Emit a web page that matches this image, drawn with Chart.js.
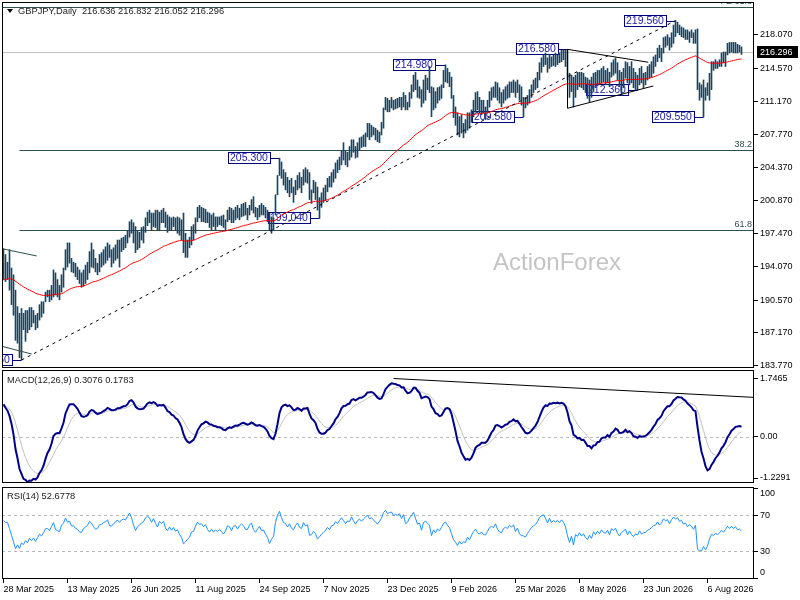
<!DOCTYPE html>
<html>
<head>
<meta charset="utf-8">
<title>GBPJPY Daily</title>
<script src="https://cdn.jsdelivr.net/npm/chart.js@4.4.1/dist/chart.umd.min.js"></script>
<style>
  html, body { margin: 0; padding: 0; background: #fff; }
  #wrap { position: relative; width: 800px; height: 600px; overflow: hidden; }
  canvas { position: absolute; left: 0; }
  #main { top: 0; }
  #macd { top: 369px; }
  #rsi { top: 485px; }
</style>
</head>
<body>
<div id="wrap">
  <canvas id="main" width="800" height="370"></canvas>
  <canvas id="macd" width="800" height="116"></canvas>
  <canvas id="rsi" width="800" height="115"></canvas>
</div>
<script>
// ---- data (one value per daily bar) ----
const symbol = 'GBPJPY,Daily';
const lastOpen = 216.636;
const tickLabels = ['28 Mar 2025', '13 May 2025', '26 Jun 2025', '11 Aug 2025', '24 Sep 2025', '7 Nov 2025',
  '23 Dec 2025', '9 Feb 2026', '25 Mar 2026', '8 May 2026', '23 Jun 2026', '6 Aug 2026'];
const barsPerLabel = 32;

const highs = [
  195.9,195.3,194.5,195.8,193.9,193.2,191.6,189.9,189.2,189.7,
  189.2,189.5,189.5,189.8,189.8,189.5,189.0,189.2,190.1,190.4,
  190.4,191.4,191.6,191.6,192.1,193.7,193.4,192.7,192.1,193.2,
  193.9,195.8,196.5,196.5,194.9,194.5,194.4,194.0,193.7,193.4,
  193.7,194.2,194.5,195.6,196.5,195.8,194.9,194.4,195.3,195.5,
  195.8,196.1,196.5,196.3,195.8,196.0,196.3,196.8,196.8,197.0,
  197.1,197.3,197.8,198.7,198.9,198.6,198.2,197.8,197.6,198.1,
  198.2,199.1,199.7,199.9,199.6,199.6,199.9,199.9,199.7,199.9,
  200.1,199.7,199.4,199.2,199.1,199.2,199.1,199.2,199.1,198.9,
  199.6,197.5,196.8,197.1,198.2,198.4,199.1,200.2,200.4,200.2,
  200.1,200.0,199.7,199.6,199.4,199.6,199.2,199.2,199.2,199.3,
  199.4,198.9,199.9,200.2,200.1,199.9,200.2,200.4,200.1,200.5,
  200.6,200.7,200.1,200.4,201.0,201.3,200.2,200.1,200.4,200.6,
  200.4,200.2,199.9,199.6,199.2,199.1,201.5,203.5,205.3,204.9,
  204.1,203.8,203.3,203.0,203.2,202.3,203.0,203.5,203.8,203.3,
  204.1,204.3,204.1,203.8,202.0,203.0,202.8,202.3,201.2,201.7,
  202.2,202.5,203.2,203.4,203.8,204.1,204.8,205.1,205.4,206.1,
  206.9,206.1,205.9,206.5,207.2,207.2,206.5,206.9,207.4,207.5,
  207.7,207.9,208.9,208.9,208.7,208.5,208.4,208.2,208.0,209.0,
  210.5,211.6,211.5,211.3,211.6,211.3,211.4,211.5,211.6,211.6,
  212.1,211.8,211.1,212.1,212.9,213.9,214.2,213.4,212.7,212.4,
  213.4,213.9,213.6,214.8,212.7,212.6,212.2,212.6,212.7,212.9,
  214.4,214.98,214.6,214.2,213.7,211.8,210.6,210.0,209.6,209.8,
  208.9,209.3,210.0,210.0,210.3,211.3,212.1,212.2,211.6,211.3,
  211.3,210.6,211.3,212.2,212.6,212.7,213.2,213.1,212.6,212.1,
  212.4,212.7,212.9,213.2,213.2,213.4,213.2,213.4,212.9,212.7,
  211.6,211.6,211.8,212.4,212.9,213.4,213.6,214.2,215.2,215.7,
  216.0,216.2,215.7,216.0,215.8,216.0,216.2,216.0,216.2,216.5,
  216.5,216.5,216.58,214.1,213.9,213.7,213.9,214.2,214.2,214.2,
  214.1,213.7,213.6,213.4,213.7,214.1,214.2,214.4,214.4,214.6,
  214.8,214.4,214.6,214.2,215.2,215.5,215.7,215.2,214.4,214.2,
  214.6,215.3,215.2,214.8,215.3,214.6,214.2,213.9,214.6,214.8,
  214.1,214.2,214.8,215.0,215.3,215.8,216.0,216.7,217.0,216.7,
  217.8,217.9,218.1,217.8,218.3,219.1,219.56,219.4,219.1,218.9,
  218.8,218.6,218.6,218.4,218.6,218.3,218.6,218.7,213.1,212.9,
  213.4,212.6,213.1,214.1,215.3,215.3,215.5,215.3,215.5,216.2,
  216.3,216.3,217.2,217.3,217.3,217.3,217.3,217.1,217.0,216.832
];
const lows = [
  192.7,192.5,192.7,191.6,190.1,189.0,186.4,186.1,184.6,184.36,
  187.5,186.3,187.2,187.5,187.8,188.2,187.5,187.7,188.5,188.8,
  189.2,190.4,190.9,190.4,190.6,190.9,191.1,190.9,190.6,191.4,
  191.9,193.7,194.0,194.4,193.5,193.4,193.0,192.7,192.3,191.9,
  192.0,192.3,192.7,193.4,194.0,193.9,193.5,193.2,193.5,194.0,
  194.2,194.4,194.7,195.0,194.0,194.4,194.7,194.9,194.0,195.6,
  195.8,196.0,196.5,197.1,197.5,196.5,195.5,195.8,196.0,196.8,
  196.5,197.6,198.3,198.6,197.8,198.2,198.1,197.8,197.8,198.6,
  198.6,198.1,197.6,197.8,197.8,198.2,197.8,197.5,197.3,196.8,
  195.5,195.0,195.0,196.0,196.3,196.8,197.5,198.7,199.1,198.7,
  198.7,198.6,198.6,198.1,197.8,198.2,197.8,198.2,198.4,198.3,
  198.1,197.8,198.7,198.9,198.6,198.6,198.9,199.1,198.9,199.2,
  199.3,199.4,198.9,199.4,199.9,199.6,199.2,198.9,199.2,199.4,
  199.4,199.1,198.7,197.8,197.5,197.8,199.4,201.5,203.5,203.2,
  202.5,202.0,201.7,201.3,201.7,200.7,201.5,202.0,202.2,201.7,
  202.5,202.8,202.7,201.0,200.6,201.7,201.0,199.9,199.04,200.2,
  200.7,200.9,201.8,202.3,202.3,202.8,203.2,203.8,204.1,204.6,
  205.1,204.6,204.4,205.1,205.4,205.9,205.3,205.4,206.1,206.4,
  206.5,206.5,207.5,207.2,207.5,207.7,207.2,207.0,206.9,207.7,
  208.4,210.3,210.1,210.1,210.5,210.3,210.4,210.5,210.6,210.3,
  210.6,210.3,210.3,210.6,211.5,212.2,212.4,211.6,211.5,210.6,
  211.0,211.3,212.4,212.1,209.6,210.3,210.5,211.0,211.3,211.5,
  212.6,213.2,213.1,212.7,211.5,209.5,208.7,207.7,207.5,207.9,
  207.4,207.9,208.2,208.4,209.0,209.6,210.1,210.3,210.0,209.8,
  210.0,209.3,210.0,210.6,211.3,211.6,211.6,211.3,211.0,210.6,
  211.0,211.3,211.5,211.6,212.1,212.1,211.6,212.1,211.3,210.8,
  209.58,210.5,210.8,211.0,211.6,212.1,212.4,212.6,213.4,214.2,
  214.8,215.0,214.2,214.6,214.8,214.9,214.8,215.0,215.2,215.3,
  215.5,214.8,213.4,211.6,212.2,210.6,211.6,212.4,212.7,212.6,
  212.4,212.1,211.5,211.1,211.6,212.2,212.6,212.8,212.9,213.1,
  213.2,212.9,213.1,212.7,213.7,213.9,214.1,213.4,212.7,211.8,
  212.6,213.6,213.1,212.9,213.1,212.6,212.4,212.36,212.9,213.1,
  212.6,212.9,213.4,213.6,213.7,214.1,214.8,215.3,215.7,215.3,
  216.2,216.8,217.0,216.5,216.8,217.2,217.9,218.3,218.1,217.9,
  217.8,217.6,217.6,217.3,217.8,217.2,217.2,212.4,211.3,211.6,
  209.55,211.3,211.8,211.3,212.4,214.4,214.6,214.6,214.8,214.8,
  215.2,214.8,216.0,216.2,216.3,216.2,216.2,216.2,216.3,216.052
];
const closes = [
  194.6,194.3,194.3,193.3,192.0,190.4,188.0,188.8,187.4,188.6,
  188.0,188.9,188.2,189.2,188.5,189.1,188.1,188.9,189.8,189.3,
  190.1,191.2,191.3,190.8,191.9,193.1,191.6,191.3,191.0,192.9,
  193.6,195.5,194.6,195.0,193.9,194.0,193.4,193.2,192.6,192.5,
  193.4,193.8,194.2,195.3,195.0,194.4,193.9,194.1,194.9,195.0,
  195.5,195.6,196.1,195.3,195.2,195.7,196.0,196.5,196.2,196.7,
  196.9,196.8,197.6,198.4,197.9,197.0,196.2,196.9,197.2,197.7,
  197.9,198.8,199.2,199.0,198.5,199.3,198.7,198.2,199.4,199.1,
  199.6,198.6,198.2,198.9,198.4,198.9,198.3,198.6,197.8,197.3,
  195.9,196.2,196.6,196.9,197.8,197.9,198.9,199.8,199.5,199.6,
  199.2,199.6,198.9,198.5,199.0,198.6,198.9,198.7,199.0,198.7,
  198.4,198.8,199.6,199.5,199.0,199.7,199.8,199.4,199.9,200.2,
  200.0,199.6,199.6,200.2,200.5,199.8,199.5,199.9,200.3,199.8,
  199.9,199.4,199.0,198.1,198.6,198.9,201.2,203.2,204.6,203.6,
  202.8,202.6,202.0,202.8,202.0,201.7,202.7,203.4,202.6,202.4,
  203.9,203.3,203.6,201.4,201.5,202.3,201.8,200.5,200.9,201.5,
  201.9,202.3,203.0,202.6,203.5,203.6,204.5,204.2,205.0,205.8,
  205.4,204.9,205.6,205.5,206.8,206.2,205.7,206.6,207.0,206.7,
  207.3,207.8,208.4,207.9,208.2,207.9,207.6,207.4,207.9,208.6,
  210.2,211.0,210.6,210.9,211.1,210.7,211.0,210.9,211.3,210.8,
  211.7,210.6,210.9,211.9,212.6,213.6,212.8,211.9,212.2,211.0,
  213.0,213.3,213.0,212.6,210.5,211.9,211.2,212.2,211.8,212.7,
  213.9,214.3,213.6,213.2,211.8,210.2,209.4,208.3,209.2,208.3,
  208.8,208.5,209.7,208.9,210.0,210.9,211.6,210.7,210.4,210.9,
  210.3,210.2,211.0,211.9,212.2,212.0,212.9,211.9,211.4,211.2,
  212.1,212.4,212.2,212.9,212.6,213.1,212.0,212.7,211.6,211.3,
  211.2,211.0,211.6,212.1,212.7,213.0,213.3,213.9,214.9,215.3,
  215.6,215.2,214.6,215.7,215.1,215.6,215.4,215.8,215.5,216.1,
  215.8,215.2,213.8,212.4,213.5,211.2,213.5,213.0,213.9,213.0,
  213.6,212.5,212.0,213.0,212.1,213.8,213.0,214.0,213.3,214.4,
  213.7,213.5,214.3,213.1,214.9,214.4,215.1,213.8,213.0,214.0,
  214.3,214.9,213.4,214.5,213.5,212.9,213.6,213.3,214.4,213.6,
  213.9,214.0,214.5,214.7,215.1,215.6,215.7,216.5,216.0,216.5,
  217.6,217.3,217.6,217.0,218.0,218.8,218.5,218.9,218.4,218.6,
  218.1,218.3,217.8,218.2,218.0,217.6,218.3,212.8,212.3,212.1,
  212.9,211.7,212.4,213.9,215.0,214.7,215.2,214.9,215.3,215.9,
  215.5,216.1,216.9,216.5,217.0,216.6,217.0,216.5,216.6,216.296
];

// marked swing points [bar index, price]
const swingMarks = [[9, 184.36], [138, 205.30], [158, 199.04], [221, 214.98], [260, 209.58],
  [282, 216.58], [317, 212.36], [336, 219.56], [350, 209.55]];
// drawn objects, [bar index, price] end points
const channelLine = [[9, 184.36], [336, 219.56]];
const triangleLines = [
  [[282, 216.58], [282, 210.47]],
  [[282, 216.58], [322.4, 215.24]],
  [[282, 210.47], [324.9, 212.78]]
];
const wedgeLines = [
  [[-1, 195.91], [16.6, 195.15]],
  [[-1, 185.79], [14.1, 184.98]]
];
const fibLow = 184.36, fibHigh = 219.56, fibStart = 8;
const fibLevels = [38.2, 61.8];
const feLevel = 220.98, feLabel = 'FE 61.8';
const priceTicks = [218.070, 214.570, 211.170, 207.770, 204.370, 200.870, 197.470, 194.070, 190.570, 187.170, 183.770];

const maPeriod = 55, maSeed = 192.6;
const ema12Seed = 194.65, ema26Seed = 193.6, signalSeed = 0.90;
const macdTicks = [1.7465, 0, -1.2291];
const macdTickLabels = ['1.7465', '0.00', '-1.2291'];
const macdLevels = [0];
const macdTrend = [[195, 1.74], [340, 1.287]];
const macdNow = ['0.3076', '0.1783'];
const rsiPrevClose = 194.3, rsiGainSeed = 0.46, rsiLossSeed = 0.27;
const rsiTicks = [100, 70, 30, 0];
const rsiLevels = [70, 30];
const rsiNow = '52.6778';
const watermark = 'ActionForex';

// ---- derived series ----
function ema(values, period, seed) {
  const k = 2 / (period + 1);
  let prev = seed;
  return values.map(v => (prev = prev + k * (v - prev)));
}
function rsi(values, period, gain, loss, prev) {
  return values.map(v => {
    const d = v - prev;
    prev = v;
    gain = (gain * (period - 1) + Math.max(d, 0)) / period;
    loss = (loss * (period - 1) + Math.max(-d, 0)) / period;
    return 100 - 100 / (1 + gain / loss);
  });
}
const ma = ema(closes, maPeriod, maSeed);
const ema12 = ema(closes, 12, ema12Seed);
const ema26 = ema(closes, 26, ema26Seed);
const macdMain = ema12.map((v, i) => v - ema26[i]);
const macdSignal = ema(macdMain, 9, signalSeed);
const rsiValues = rsi(closes, 14, rsiGainSeed, rsiLossSeed, rsiPrevClose);
const n = closes.length;
const lastClose = closes[n - 1];
const pts = arr => arr.map((v, i) => ({ x: i, y: v }));

// ---- shared look ----
const FONT = '"Liberation Sans", Arial, sans-serif';
Chart.defaults.font.family = FONT;
Chart.defaults.font.size = 9;
Chart.defaults.color = '#000';
Chart.defaults.animation = false;
Chart.defaults.events = [];
Chart.defaults.plugins.legend.display = false;
Chart.defaults.plugins.tooltip.enabled = false;

const X_MIN = -0.75, X_MAX = 375.25;
const AXIS_W = 46;

function fixY(scale) {
  scale.width = AXIS_W;
  scale.paddingTop = 0;
  scale.paddingBottom = 0;
}
function hiddenX() {
  return { type: 'linear', min: X_MIN, max: X_MAX, offset: false, display: false };
}
function rightAxis(min, max, ticks, labels, showLabels) {
  return {
    type: 'linear', position: 'right', min: min, max: max,
    afterBuildTicks: s => { s.ticks = ticks.map(v => ({ value: v })); },
    afterFit: fixY,
    ticks: { display: showLabels, autoSkip: false, padding: 2, callback: (v, i) => labels[i] },
    grid: { drawOnChartArea: false, drawTicks: true, tickLength: 4, color: '#000' },
    border: { display: false }
  };
}
function clipTo(ctx, a) {
  ctx.beginPath();
  ctx.rect(a.left, a.top, a.right - a.left, a.bottom - a.top);
  ctx.clip();
}
function hLine(ctx, x0, x1, py, color, dash) {
  const yy = Math.round(py) + 0.5;
  ctx.beginPath();
  ctx.setLineDash(dash || []);
  ctx.strokeStyle = color;
  ctx.lineWidth = 1;
  ctx.moveTo(x0, yy);
  ctx.lineTo(x1, yy);
  ctx.stroke();
  ctx.setLineDash([]);
}
function segment(ctx, chart, p0, p1) {
  const { x, y } = chart.scales;
  ctx.moveTo(x.getPixelForValue(p0[0]), y.getPixelForValue(p0[1]));
  ctx.lineTo(x.getPixelForValue(p1[0]), y.getPixelForValue(p1[1]));
}
function drawFrame(chart) {
  const { ctx, chartArea: a } = chart;
  ctx.save();
  ctx.strokeStyle = '#000';
  ctx.lineWidth = 1;
  ctx.strokeRect(a.left + 0.5, a.top + 0.5, a.right - a.left - 1, a.bottom - a.top - 1);
  ctx.restore();
}
function header(chart, text, x, dy) {
  const { ctx, chartArea: a } = chart;
  ctx.save();
  ctx.font = '9.3px ' + FONT;
  ctx.fillStyle = '#222';
  ctx.textAlign = 'left';
  ctx.textBaseline = 'middle';
  ctx.fillText(text, x, a.top + dy);
  ctx.restore();
}

// ---- main price pane ----
const mainDeco = {
  id: 'mainDeco',
  beforeDatasetsDraw(chart) {
    const { ctx, chartArea: a, scales: { x, y } } = chart;
    ctx.save();
    clipTo(ctx, a);
    ctx.font = '24px ' + FONT;
    ctx.fillStyle = '#c4c4c4';
    ctx.textAlign = 'left';
    ctx.textBaseline = 'alphabetic';
    ctx.fillText(watermark, 493, 270);

    hLine(ctx, a.left, a.right, y.getPixelForValue(lastClose), '#c0c0c0');

    ctx.font = '9px ' + FONT;
    ctx.fillStyle = '#2f4f4f';
    ctx.textAlign = 'right';
    ctx.textBaseline = 'bottom';
    fibLevels.forEach(lv => {
      const py = y.getPixelForValue(fibHigh - lv / 100 * (fibHigh - fibLow));
      hLine(ctx, x.getPixelForValue(fibStart), a.right, py, '#2f4f4f');
      ctx.fillText(lv.toFixed(1), a.right - 2, Math.round(py) - 1);
    });
    const fy = y.getPixelForValue(feLevel);
    hLine(ctx, a.left, a.right, fy, '#2f4f4f');
    ctx.fillText(feLabel, a.right - 2, Math.round(fy) - 1);

    ctx.font = '10.5px ' + FONT;
    ctx.textAlign = 'left';
    ctx.textBaseline = 'middle';
    swingMarks.forEach(([i, p]) => {
      const bx = x.getPixelForValue(i);
      const by = Math.round(y.getPixelForValue(p));
      const text = p.toFixed(3);
      const w = Math.round(ctx.measureText(text).width + 4);
      const right = Math.round(bx - 10);
      const left = right - w;
      ctx.fillStyle = '#fff';
      ctx.fillRect(left, by - 6, w, 12);
      ctx.strokeStyle = '#000080';
      ctx.lineWidth = 1;
      ctx.strokeRect(left + 0.5, by - 5.5, w, 11);
      ctx.beginPath();
      ctx.moveTo(right, by + 0.5);
      ctx.lineTo(bx, by + 0.5);
      ctx.stroke();
      ctx.fillStyle = '#1a1aa0';
      ctx.fillText(text, left + 2, by + 0.5);
    });
    ctx.restore();
  },
  afterDatasetsDraw(chart) {
    const { ctx, chartArea: a } = chart;
    ctx.save();
    clipTo(ctx, a);
    ctx.lineWidth = 1;
    ctx.strokeStyle = '#000';
    ctx.setLineDash([3, 4]);
    ctx.beginPath();
    segment(ctx, chart, channelLine[0], channelLine[1]);
    ctx.stroke();
    ctx.setLineDash([]);
    ctx.beginPath();
    triangleLines.forEach(l => segment(ctx, chart, l[0], l[1]));
    ctx.stroke();
    ctx.strokeStyle = '#2f4f4f';
    ctx.beginPath();
    wedgeLines.forEach(l => segment(ctx, chart, l[0], l[1]));
    ctx.stroke();
    ctx.restore();
  },
  afterDraw(chart) {
    const { ctx, chartArea: a, scales: { y } } = chart;
    drawFrame(chart);
    ctx.save();
    ctx.fillStyle = '#000';
    ctx.beginPath();
    ctx.moveTo(a.left + 5, a.top + 7);
    ctx.lineTo(a.left + 11, a.top + 7);
    ctx.lineTo(a.left + 8, a.top + 11);
    ctx.closePath();
    ctx.fill();
    ctx.restore();
    const ohlc = [lastOpen, highs[n - 1], lows[n - 1], closes[n - 1]].map(v => v.toFixed(3)).join(' ');
    header(chart, symbol + '  ' + ohlc, a.left + 16, 9);

    const py = Math.round(y.getPixelForValue(lastClose));
    ctx.save();
    ctx.fillStyle = '#000';
    ctx.fillRect(a.right + 3, py - 6, 41, 12);
    ctx.font = '9px ' + FONT;
    ctx.fillStyle = '#fff';
    ctx.textAlign = 'left';
    ctx.textBaseline = 'middle';
    ctx.fillText(lastClose.toFixed(3), a.right + 6, py + 0.5);
    ctx.restore();
  }
};

new Chart(document.getElementById('main'), {
  type: 'bar',
  data: {
    datasets: [
      { type: 'line', data: pts(ma), borderColor: '#ff0000', borderWidth: 1, pointRadius: 0, order: 0 },
      {
        type: 'bar',
        data: highs.map((h, i) => ({ x: i, y: [lows[i], h] })),
        backgroundColor: '#1a4562',
        borderWidth: 0,
        barThickness: 1,
        order: 1
      }
    ]
  },
  options: {
    responsive: false,
    devicePixelRatio: 1,
    layout: { autoPadding: false, padding: { left: 2, right: 0, top: 2, bottom: 2 } },
    scales: {
      x: hiddenX(),
      y: rightAxis(183.53, 221.49, priceTicks, priceTicks.map(v => v.toFixed(3)), true)
    }
  },
  plugins: [mainDeco]
});

// ---- MACD pane ----
const macdDeco = {
  id: 'macdDeco',
  beforeDatasetsDraw(chart) {
    const { ctx, chartArea: a, scales: { y } } = chart;
    ctx.save();
    clipTo(ctx, a);
    macdLevels.forEach(v => hLine(ctx, a.left, a.right, y.getPixelForValue(v), '#b8b8b8', [3, 3]));
    ctx.restore();
  },
  afterDatasetsDraw(chart) {
    const { ctx, chartArea: a, scales: { x } } = chart;
    const [p0, p1] = macdTrend;
    const slope = (p1[1] - p0[1]) / (p1[0] - p0[0]);
    ctx.save();
    clipTo(ctx, a);
    ctx.strokeStyle = '#000';
    ctx.lineWidth = 1;
    ctx.beginPath();
    segment(ctx, chart, p0, [x.max, p0[1] + slope * (x.max - p0[0])]);
    ctx.stroke();
    ctx.restore();
  },
  afterDraw(chart) {
    drawFrame(chart);
    header(chart, 'MACD(12,26,9) ' + macdNow.join(' '), chart.chartArea.left + 5, 10);
  }
};

new Chart(document.getElementById('macd'), {
  type: 'line',
  data: {
    datasets: [
      { data: pts(macdMain), borderColor: '#00008b', borderWidth: 2, pointRadius: 0 },
      { data: pts(macdSignal), borderColor: '#c0c0c0', borderWidth: 1, pointRadius: 0 }
    ]
  },
  options: {
    responsive: false,
    devicePixelRatio: 1,
    layout: { autoPadding: false, padding: { left: 2, right: 0, top: 1, bottom: 2 } },
    scales: {
      x: hiddenX(),
      y: rightAxis(-1.378, 1.994, macdTicks, macdTickLabels, true)
    }
  },
  plugins: [macdDeco]
});

// ---- RSI pane with the date axis ----
const rsiDeco = {
  id: 'rsiDeco',
  beforeDatasetsDraw(chart) {
    const { ctx, chartArea: a, scales: { y } } = chart;
    ctx.save();
    clipTo(ctx, a);
    rsiLevels.forEach(v => hLine(ctx, a.left, a.right, y.getPixelForValue(v), '#b8b8b8', [3, 3]));
    ctx.restore();
  },
  afterDraw(chart) {
    const { ctx, chartArea: a, scales: { y } } = chart;
    drawFrame(chart);
    header(chart, 'RSI(14) ' + rsiNow, a.left + 5, 9);
    ctx.save();
    ctx.font = '9px ' + FONT;
    ctx.fillStyle = '#000';
    ctx.textAlign = 'left';
    ctx.textBaseline = 'middle';
    rsiTicks.forEach(v => {
      const py = Math.min(Math.max(y.getPixelForValue(v), a.top + 7), a.bottom - 6);
      ctx.fillText(String(v), a.right + 6, py);
    });
    ctx.restore();
  }
};

new Chart(document.getElementById('rsi'), {
  type: 'line',
  data: {
    datasets: [
      { data: pts(rsiValues), borderColor: '#1e90ff', borderWidth: 1, pointRadius: 0 }
    ]
  },
  options: {
    responsive: false,
    devicePixelRatio: 1,
    layout: { autoPadding: false, padding: { left: 2, right: 0, top: 2, bottom: 0 } },
    scales: {
      x: {
        type: 'linear', min: X_MIN, max: X_MAX, offset: false, position: 'bottom',
        afterBuildTicks: s => { s.ticks = tickLabels.map((_, k) => ({ value: k * barsPerLabel })); },
        afterFit: s => { s.height = 21; s.paddingLeft = 0; s.paddingRight = 0; },
        ticks: { autoSkip: false, maxRotation: 0, minRotation: 0, align: 'start', padding: 1,
          callback: (v, i) => tickLabels[i] },
        grid: { drawOnChartArea: false, drawTicks: true, tickLength: 4, color: '#000' },
        border: { display: false }
      },
      y: rightAxis(-0.8, 101.4, rsiTicks, rsiTicks.map(String), false)
    }
  },
  plugins: [rsiDeco]
});
</script>
</body>
</html>
